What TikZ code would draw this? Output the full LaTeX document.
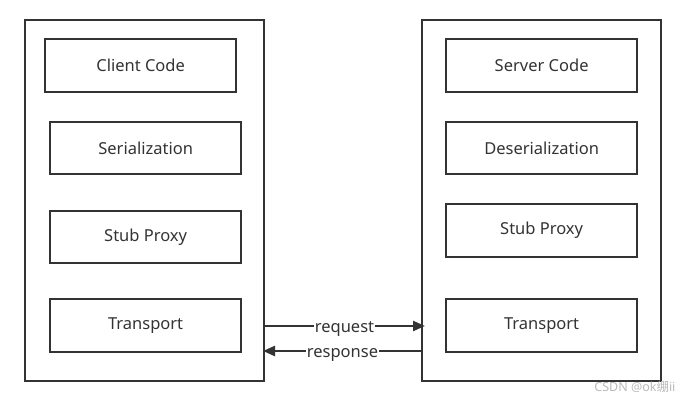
\documentclass[tikz,border=0pt]{standalone}
\usepackage{fontspec}
\setmainfont{Noto Sans}
\newfontfamily\cjk{Noto Sans CJK SC}
\usetikzlibrary{arrows.meta}
\definecolor{ink}{HTML}{333333}
\begin{document}
\begin{tikzpicture}[x=1pt,y=-1pt,
  outerbox/.style={draw=ink,line width=2.3pt},
  layerbox/.style={draw=ink,line width=2.3pt,inner sep=0pt,anchor=north west,font=\fontsize{16.5}{19}\selectfont,text=ink},
  flow/.style={draw=ink,line width=2.3pt,-{Triangle[length=12pt,width=10pt]}},
  flowlabel/.style={fill=white,inner sep=1pt,font=\fontsize{16.5}{19}\selectfont,text=ink}]
\useasboundingbox (0,0) rectangle (689,403);
\draw[outerbox] (25,20) rectangle (264,381);
\draw[outerbox] (422,20) rectangle (661,381);
\node[layerbox,minimum width=191pt,minimum height=53pt] (cc) at (44,38) {Client Code};
\node[layerbox,minimum width=191pt,minimum height=52pt] (ser) at (49,121) {Serialization};
\node[layerbox,minimum width=191pt,minimum height=52pt] (csp) at (49,210) {Stub Proxy};
\node[layerbox,minimum width=191pt,minimum height=53pt] (ct) at (49,298) {Transport};
\node[layerbox,minimum width=191pt,minimum height=53pt] (sc) at (445,38) {Server Code};
\node[layerbox,minimum width=191pt,minimum height=52pt] (des) at (445,121) {Deserialization};
\node[layerbox,minimum width=191pt,minimum height=53pt] (ssp) at (445,203) {Stub Proxy};
\node[layerbox,minimum width=191pt,minimum height=53pt] (st) at (445,298) {Transport};
\coordinate (reqA) at (264,326);
\coordinate (reqB) at (425,326);
\coordinate (resA) at (422,351);
\coordinate (resB) at (263,351);
\draw[flow] (reqA) -- node[flowlabel,yshift=-3pt] (req) {request} (reqB);
\draw[flow] (resA) -- node[flowlabel,yshift=-4pt] (res) {response} (resB);
\node[anchor=east,text=gray!55,font=\fontsize{12.5}{14}\selectfont] (wm) at (679,387) {CSDN @ok{\cjk 绷}ii};
\end{tikzpicture}
\end{document}
